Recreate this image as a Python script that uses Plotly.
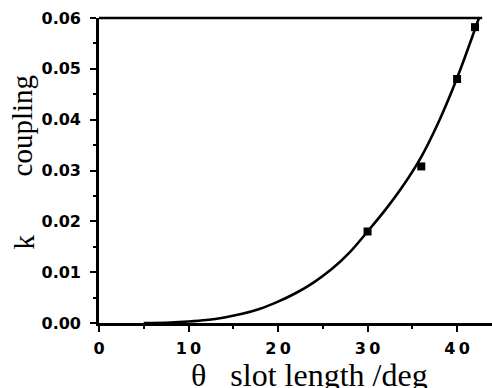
import plotly.graph_objects as go

# measured points
theta_pts = [30, 36, 40, 42]
k_pts = [0.0180, 0.0308, 0.0480, 0.0582]

# fitted curve
theta_curve = [5, 8, 10, 12, 14, 16, 18, 20, 22, 24, 26, 28, 30, 32, 34, 36, 38, 40, 42, 42.6]
k_curve = [0.0000, 0.0001, 0.0003, 0.0006, 0.0011, 0.0018, 0.0028, 0.0042, 0.0059, 0.0080,
           0.0106, 0.0139, 0.0180, 0.0223, 0.0271, 0.0327, 0.0398, 0.0482, 0.0578, 0.0608]

x_tickvals = [0, 10, 20, 30, 40]
x_ticktext = ["0", "1\u20090", "2\u20090", "3\u20090", "4\u20090"]
y_tickvals = [0.00, 0.01, 0.02, 0.03, 0.04, 0.05, 0.06]
y_ticktext = ["0.00", "0.01", "0.02", "0.03", "0.04", "0.05", "0.06"]

fig = go.Figure()
fig.add_trace(go.Scatter(x=theta_curve, y=k_curve, mode="lines",
                         line=dict(color="black", width=2.6, shape="spline", smoothing=1.0),
                         showlegend=False, hoverinfo="skip"))
fig.add_trace(go.Scatter(x=theta_pts, y=k_pts, mode="markers",
                         marker=dict(symbol="square", size=8, color="black"),
                         showlegend=False, cliponaxis=False))

tickfont = dict(family="DejaVu Sans", size=16, color="black", weight="bold")

fig.update_layout(
    width=492, height=388,
    margin=dict(l=99, r=0, t=18, b=65, autoexpand=False),
    paper_bgcolor="white", plot_bgcolor="white",
    xaxis=dict(range=[0, 43.9], showgrid=False, zeroline=False, automargin=False,
               showline=True, linecolor="black", linewidth=2.6,
               ticks="outside", ticklen=6, tickwidth=2, tickcolor="black",
               tickvals=x_tickvals, ticktext=x_ticktext, tickfont=tickfont,
               ticklabelstandoff=3,
               minor=dict(dtick=5, ticks="outside", ticklen=3, tickwidth=2, tickcolor="black")),
    yaxis=dict(range=[0, 0.06], showgrid=False, zeroline=False, automargin=False,
               showline=True, linecolor="black", linewidth=2.6,
               ticks="outside", ticklen=6, tickwidth=2, tickcolor="black",
               tickvals=y_tickvals, ticktext=y_ticktext, tickfont=tickfont,
               ticklabelstandoff=6,
               minor=dict(dtick=0.005, ticks="outside", ticklen=3, tickwidth=2, tickcolor="black")),
    shapes=[dict(type="line", xref="paper", yref="paper", x0=0, x1=0.975, y0=1, y1=1,
                 line=dict(color="black", width=2.6))],
    annotations=[
        dict(text="coupling", xref="paper", yref="paper", x=-0.195, y=0.649,
             textangle=-90, showarrow=False, xanchor="center", yanchor="middle",
             font=dict(family="Liberation Serif", size=29, color="black")),
        dict(text="k", xref="paper", yref="paper", x=-0.192, y=0.266,
             textangle=-90, showarrow=False, xanchor="center", yanchor="middle",
             font=dict(family="Liberation Serif", size=29, color="black")),
        dict(text="θ   slot length /deg", xref="paper", yref="paper", x=0.535, y=-0.17,
             showarrow=False, xanchor="center", yanchor="middle",
             font=dict(family="Liberation Serif", size=32, color="black")),
    ],
)

fig.write_html("out.html", config={"displayModeBar": False},
               post_script="document.body.style.margin='0';")
